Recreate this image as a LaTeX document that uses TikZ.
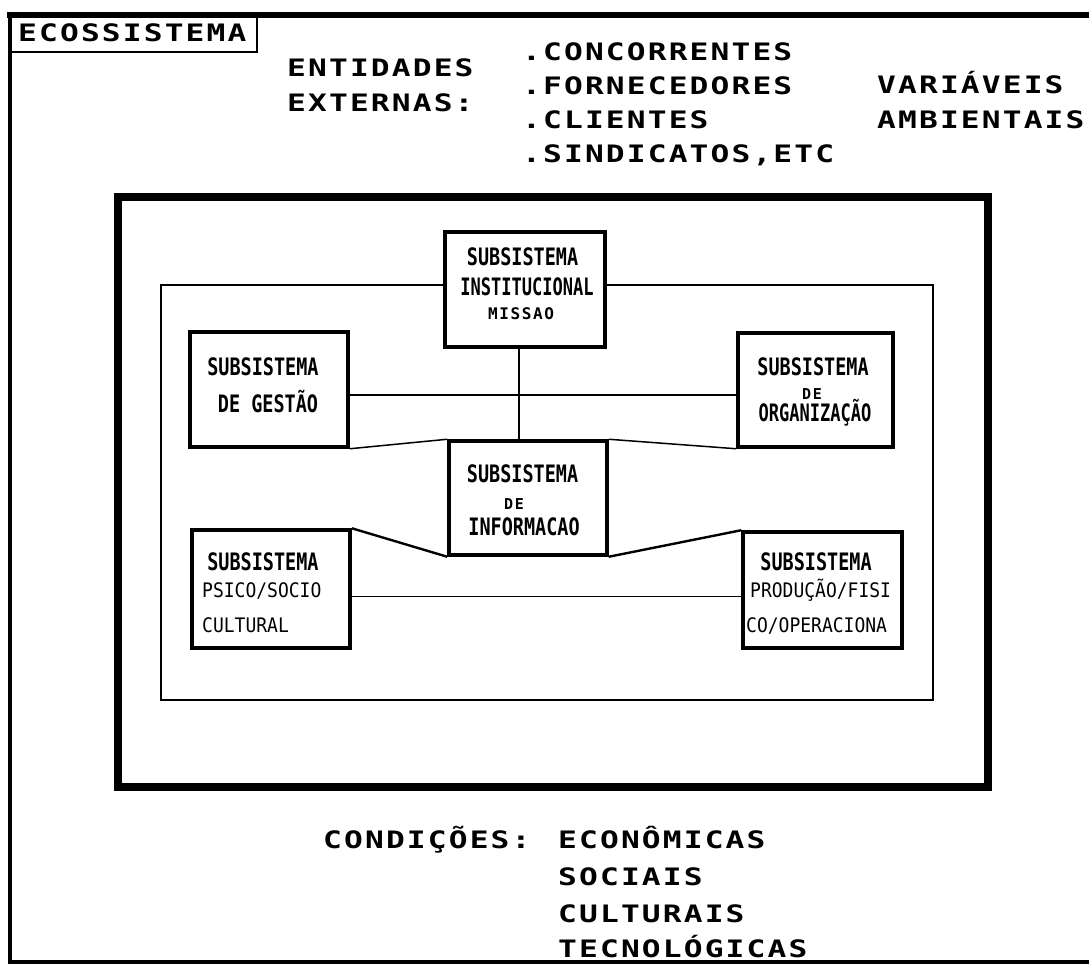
\documentclass[tikz,border=0pt]{standalone}
\usepackage{fontspec}
\newfontfamily\bigf{DejaVu Sans Mono}[FakeStretch=1.3,LetterSpace=9]
\newfontfamily\subf{DejaVu Sans Mono}[FakeStretch=0.77]
\newfontfamily\subn{DejaVu Sans Mono}[FakeStretch=0.71]
\newfontfamily\smf{DejaVu Sans Mono}[FakeStretch=0.9]
\newfontfamily\tnf{DejaVu Sans Mono}[LetterSpace=10]
\tikzset{
  big/.style={inner sep=0pt, anchor=base west, font=\bigf\bfseries\fontsize{24}{24}\selectfont},
  sub/.style={inner sep=0pt, anchor=base, font=\subf\bfseries\fontsize{24}{24}\selectfont},
  subnar/.style={inner sep=0pt, anchor=base, font=\subn\bfseries\fontsize{24}{24}\selectfont},
  sml/.style={inner sep=0pt, anchor=base west, font=\smf\fontsize{20}{20}\selectfont},
  tny/.style={inner sep=0pt, anchor=base, font=\tnf\bfseries\fontsize{16}{16}\selectfont},
  tnyde/.style={inner sep=0pt, anchor=base, font=\tnf\bfseries\fontsize{15}{15}\selectfont},
  sbox/.style={draw, line width=3.5pt, fill=white, inner sep=0pt},
  conn/.style={line width=1.5pt},
  dconn/.style={line width=2.4pt}
}
\begin{document}
\begin{tikzpicture}[x=1pt,y=-1pt]
\useasboundingbox[fill=white] (0,0) rectangle (1089,966);
% outer frame
\draw[line width=6pt] (7,15) -- (1089,15);
\draw[line width=4pt] (10,13) -- (10,964);
\draw[line width=4pt] (8,962) -- (1089,962);
% title box
\draw[line width=2.5pt] (10,52) -- (257,52) -- (257,15);
\node[big] (eco) at (18,42) {ECOSSISTEMA};
% top texts
\node[big] (ent) at (287,77) {ENTIDADES};
\node[big] (ext) at (287,111) {EXTERNAS:};
\node[big] (e1) at (522,60) {.CONCORRENTES};
\node[big] (e2) at (522,94) {.FORNECEDORES};
\node[big] (e3) at (522,128) {.CLIENTES};
\node[big] (e4) at (522,162) {.SINDICATOS,ETC};
\node[big] (v1) at (877,93) {VARIÁVEIS};
\node[big] (v2) at (877,128) {AMBIENTAIS};
% frames
\draw[line width=8pt] (118,197) rectangle (988,787);
\draw[line width=2pt] (161,285) rectangle (933,700);
% boxes
\node[sbox, minimum width=160pt, minimum height=115pt] (inst) at (525,289.5) {};
\node[sbox, minimum width=158pt, minimum height=115pt] (gest) at (269,389.5) {};
\node[sbox, minimum width=155pt, minimum height=114pt] (org) at (815.5,390) {};
\node[sbox, minimum width=158pt, minimum height=114pt] (info) at (528,498) {};
\node[sbox, minimum width=158pt, minimum height=118pt] (psico) at (271,589) {};
\node[sbox, minimum width=159pt, minimum height=116pt] (prod) at (822.5,590) {};
% connectors
\draw[conn] ([xshift=-6pt]inst.south) -- ([xshift=-6pt]inst.south |- info.north);
\draw[conn] ([yshift=-5.5pt]gest.east) -- ([yshift=-5.5pt]gest.east -| org.west);
\draw[conn] (gest.south east) -- (info.north west);
\draw[conn] (info.north east) -- (org.south west);
\draw[dconn] (psico.north east) -- (info.south west);
\draw[dconn] (info.south east) -- (prod.north west);
\draw[conn] ([yshift=-7.5pt]psico.east) -- ([yshift=-7.5pt]psico.east -| prod.west);
% box texts
\node[sub] (inst1) at (522.5,265) {SUBSISTEMA};
\node[subnar] (inst2) at (527,295) {INSTITUCIONAL};
\node[tny] (inst3) at (521,319) {MISSAO};
\node[sub] (gest1) at (263,375) {SUBSISTEMA};
\node[sub] (gest2) at (268,412) {DE GESTÃO};
\node[sub] (org1) at (813,375) {SUBSISTEMA};
\node[tnyde] (org2) at (812,399) {DE};
\node[subnar] (org3) at (815,421) {ORGANIZAÇÃO};
\node[sub] (info1) at (522.5,482) {SUBSISTEMA};
\node[tnyde] (info2) at (514,509) {DE};
\node[sub] (info3) at (524,535) {INFORMACAO};
\node[sub] (psico1) at (263,570) {SUBSISTEMA};
\node[sml] (psico2) at (202,597) {PSICO/SOCIO};
\node[sml] (psico3) at (202,632) {CULTURAL};
\node[sub] (prod1) at (816,570) {SUBSISTEMA};
\node[sml] (prod2) at (750,597) {PRODUÇÃO/FISI};
\node[sml] (prod3) at (746,632) {CO/OPERACIONA};
% bottom texts
\node[big] (cond) at (323,848) {CONDIÇÕES:};
\node[big] (c1) at (558,848) {ECONÔMICAS};
\node[big] (c2) at (558,885) {SOCIAIS};
\node[big] (c3) at (558,922) {CULTURAIS};
\node[big] (c4) at (558,957) {TECNOLÓGICAS};
\end{tikzpicture}
\end{document}
